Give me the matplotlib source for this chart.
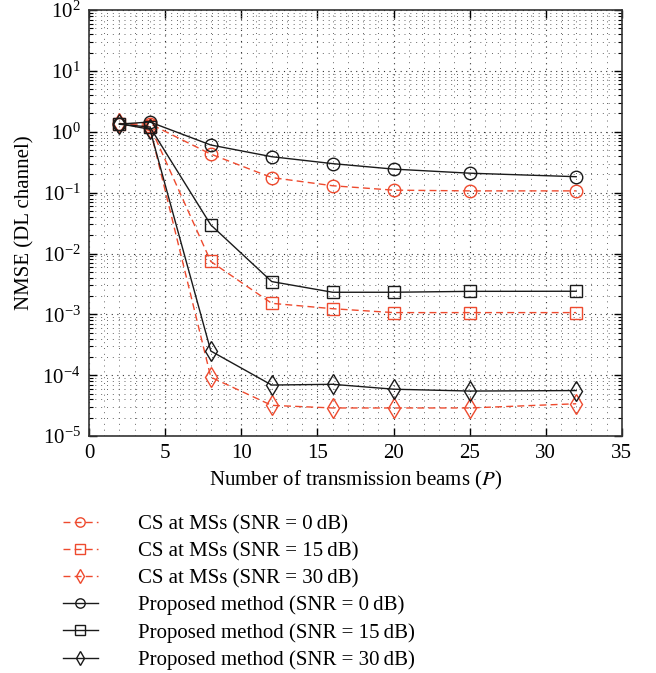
import matplotlib
matplotlib.use("Agg")
import matplotlib.pyplot as plt
from matplotlib.ticker import MultipleLocator, LogLocator, NullFormatter

plt.rcParams['font.family'] = ['Liberation Serif', 'DejaVu Serif']
plt.rcParams['mathtext.fontset'] = 'stix'

beams = [2, 4, 8, 12, 16, 20, 25, 32]

cs_0db = [1.35, 1.35, 0.43, 0.177, 0.130, 0.110, 0.107, 0.107]
cs_15db = [1.35, 1.25, 0.0074, 0.00152, 0.00124, 0.00107, 0.00107, 0.00107]
cs_30db = [1.38, 1.15, 9.3e-5, 3.2e-5, 2.9e-5, 2.9e-5, 2.9e-5, 3.4e-5]
prop_0db = [1.34, 1.45, 0.607, 0.39, 0.30, 0.244, 0.209, 0.183]
prop_15db = [1.33, 1.2, 0.0295, 0.00346, 0.00231, 0.00231, 0.00239, 0.0024]
prop_30db = [1.36, 1.1, 2.5e-4, 6.9e-5, 7.1e-5, 5.9e-5, 5.5e-5, 5.6e-5]

labels = [
    "CS at MSs (SNR = 0\u2009dB)",
    "CS at MSs (SNR = 15\u2009dB)",
    "CS at MSs (SNR = 30\u2009dB)",
    "Proposed method (SNR = 0\u2009dB)",
    "Proposed method (SNR = 15\u2009dB)",
    "Proposed method (SNR = 30\u2009dB)",
]

red = '#ee4a2e'
black = '#1a1a1a'

fig = plt.figure(figsize=(6.56, 6.73), dpi=100)
ax = fig.add_axes([0.1357, 0.352, 0.8123, 0.633])

series = [
    (cs_0db, red, (0, (5, 3)), 'o'),
    (cs_15db, red, (0, (5, 3)), 's'),
    (cs_30db, red, (0, (5, 3)), 'd'),
    (prop_0db, black, '-', 'o'),
    (prop_15db, black, '-', 's'),
    (prop_30db, black, '-', 'd'),
]
handles = []
for (vals, col, ls, mk), lab in zip(series, labels):
    ms = 10 if mk == 'd' else 9
    h, = ax.semilogy(beams, vals, color=col, linestyle=ls, marker=mk,
                     markersize=ms, markerfacecolor='none', markeredgecolor=col,
                     linewidth=1.0, markeredgewidth=1.0, label=lab)
    handles.append(h)

ax.set_xlim(0, 35)
ax.set_ylim(1e-5, 1e2)
ax.xaxis.set_major_locator(MultipleLocator(5))
ax.xaxis.set_minor_locator(MultipleLocator(1))
ax.yaxis.set_major_locator(LogLocator(base=10, numticks=20))
ax.yaxis.set_minor_locator(LogLocator(base=10, subs=range(2, 10), numticks=100))
ax.yaxis.set_minor_formatter(NullFormatter())

ax.grid(True, which='major', linestyle=(0, (1, 4)), color='#333333', linewidth=0.8)
ax.grid(True, which='minor', linestyle=(0, (1, 5)), color='#666666', linewidth=0.7)
ax.set_axisbelow(True)

ax.tick_params(which='both', direction='in', top=True, right=True, labelsize=15)
ax.tick_params(which='major', length=6, width=1, pad=6)
ax.tick_params(which='minor', length=3, width=0.8)
ax.tick_params(axis='x', which='minor', length=0)
for s in ax.spines.values():
    s.set_linewidth(1.2)
    s.set_color('#333333')

ax.set_xlabel("Number of transmission beams ($P$)", fontsize=15, labelpad=4)
ax.set_ylabel("NMSE (DL channel)", fontsize=15, labelpad=6)

fig.legend(handles=handles, labels=labels, loc='upper left',
           bbox_to_anchor=(0.083, 0.248), frameon=False, fontsize=15,
           handlelength=1.7, handletextpad=1.9, labelspacing=0.36,
           markerscale=0.75, borderaxespad=0)

fig.savefig('out.png', dpi=100)
